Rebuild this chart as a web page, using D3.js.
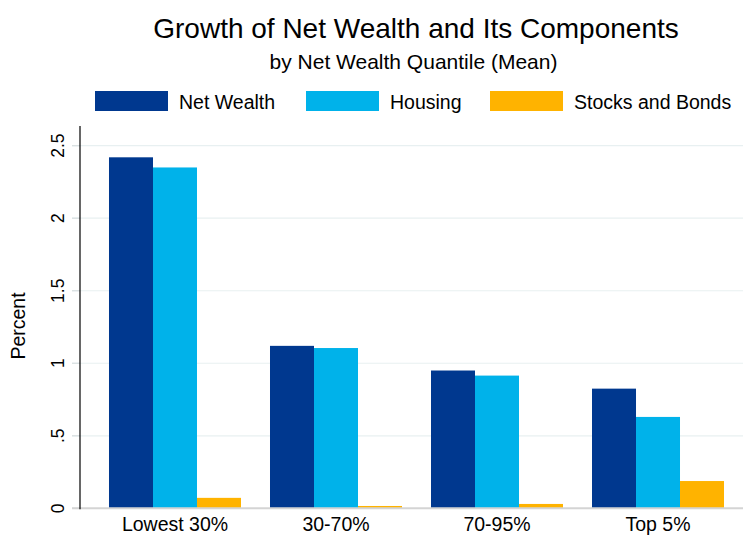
<!DOCTYPE html>
<html>
<head>
<meta charset="utf-8">
<script src="https://cdn.jsdelivr.net/npm/d3@7"></script>
<style>
  html, body { margin: 0; padding: 0; background: #fff; }
  svg { display: block; font-family: Arial, "Liberation Sans", sans-serif; }
</style>
</head>
<body>
<svg id="chart" width="743" height="536"></svg>
<script>
const categories = ["Lowest 30%", "30-70%", "70-95%", "Top 5%"];
const seriesNames = ["Net Wealth", "Housing", "Stocks and Bonds"];
const netWealth = [2.42, 1.12, 0.95, 0.825];
const housing = [2.35, 1.105, 0.915, 0.63];
const stocksBonds = [0.072, 0.016, 0.03, 0.188];
const yTicks = [0, 0.5, 1, 1.5, 2, 2.5];
const yTickLabels = ["0", ".5", "1", "1.5", "2", "2.5"];
const colors = ["#00388f", "#00b2ea", "#ffb300"];

const series = [netWealth, housing, stocksBonds];
const svg = d3.select("#chart");

const y = d3.scaleLinear().domain([0, 2.5]).range([508.3, 145.7]);
const x0 = d3.scaleBand().domain(categories).range([94.5, 738.5])
  .paddingInner(29 / 161).paddingOuter(0.09);
const x1 = d3.scaleBand().domain(seriesNames).range([0, x0.bandwidth()]);

// gridlines
svg.append("g").selectAll("line").data(yTicks.filter(d => d > 0)).join("line")
  .attr("x1", 72).attr("x2", 743)
  .attr("y1", d => y(d)).attr("y2", d => y(d))
  .attr("stroke", "#e8f0f1").attr("stroke-width", 1.2);

// y tick marks and labels
const yAxis = svg.append("g");
yAxis.selectAll("line").data(yTicks).join("line")
  .attr("x1", 72).attr("x2", 80)
  .attr("y1", d => y(d)).attr("y2", d => y(d))
  .attr("stroke", "#d8dfe0").attr("stroke-width", 1.2);
yAxis.selectAll("text").data(yTicks).join("text")
  .attr("transform", d => `translate(64,${y(d)}) rotate(-90)`)
  .attr("text-anchor", "middle")
  .attr("font-size", 17.5)
  .attr("fill", "#000")
  .text((d, i) => yTickLabels[i]);

// bars
const groups = svg.append("g").selectAll("g").data(categories).join("g")
  .attr("transform", d => `translate(${x0(d)},0)`);
groups.selectAll("rect")
  .data((c, ci) => seriesNames.map((s, si) => ({ s, si, v: series[si][ci] })))
  .join("rect")
  .attr("x", d => x1(d.s))
  .attr("width", x1.bandwidth())
  .attr("y", d => y(d.v))
  .attr("height", d => y(0) - y(d.v))
  .attr("fill", d => colors[d.si]);

// x axis line
svg.append("line").attr("x1", 72).attr("x2", 743)
  .attr("y1", y(0)).attr("y2", y(0))
  .attr("stroke", "#d4d4d4").attr("stroke-width", 2);

// y axis line
svg.append("line").attr("x1", 80).attr("x2", 80)
  .attr("y1", 126).attr("y2", y(0) + 1)
  .attr("stroke", "#000").attr("stroke-width", 1.2);

// category labels
svg.append("g").selectAll("text").data(categories).join("text")
  .attr("x", d => x0(d) + x0.bandwidth() / 2)
  .attr("y", 531)
  .attr("text-anchor", "middle")
  .attr("font-size", 19.5)
  .text(d => d);

// y title
svg.append("text")
  .attr("transform", "translate(25,326) rotate(-90)")
  .attr("text-anchor", "middle")
  .attr("font-size", 19.5)
  .text("Percent");

// title
svg.append("text").attr("x", 416).attr("y", 38)
  .attr("text-anchor", "middle").attr("font-size", 28)
  .text("Growth of Net Wealth and Its Components");
svg.append("text").attr("x", 413.5).attr("y", 69)
  .attr("text-anchor", "middle").attr("font-size", 21)
  .text("by Net Wealth Quantile (Mean)");

// legend
const legendX = [95, 306, 490];
const leg = svg.append("g").selectAll("g").data(seriesNames).join("g")
  .attr("transform", (d, i) => `translate(${legendX[i]},0)`);
leg.append("rect").attr("x", 0).attr("y", 91).attr("width", 73).attr("height", 20)
  .attr("fill", (d, i) => colors[i]);
leg.append("text").attr("x", 84).attr("y", 109).attr("font-size", 19.5)
  .text(d => d);
</script>
</body>
</html>
